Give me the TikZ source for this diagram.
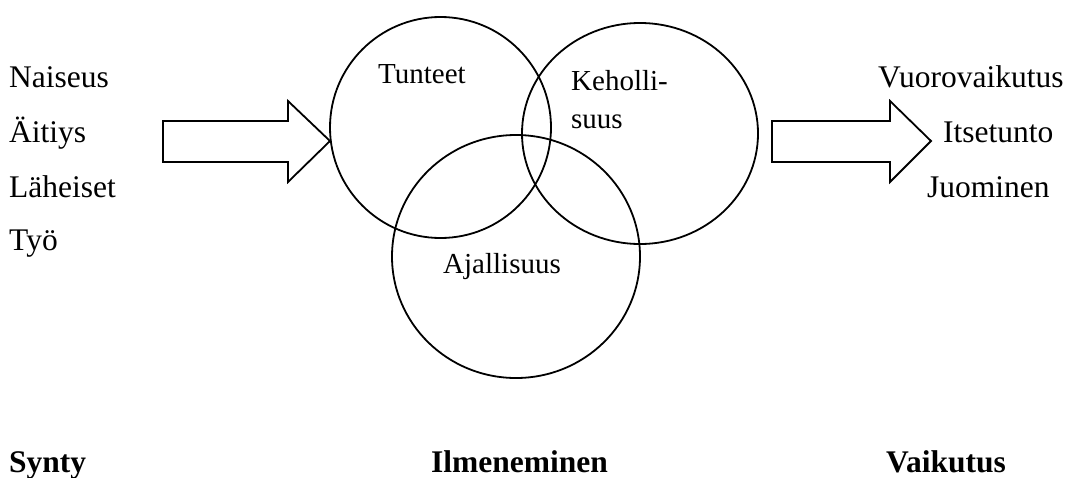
\documentclass[tikz,border=0pt]{standalone}
\usepackage{fontspec}
\setmainfont{Liberation Serif}
\begin{document}
\begin{tikzpicture}[x=1pt,y=-1pt,
  shapeline/.style={draw=black,line width=1.8pt,line join=miter},
  lbl/.style={inner sep=0pt,anchor=base west,font=\fontsize{31.5}{36}\selectfont},
  clbl/.style={inner sep=0pt,anchor=base west,font=\fontsize{29}{34}\selectfont},
  blbl/.style={inner sep=0pt,anchor=base west,font=\fontsize{31.5}{36}\selectfont\bfseries}]
\useasboundingbox (0,0) rectangle (1070,477);
% left labels
\node[lbl] (naiseus) at (9,87) {Naiseus};
\node[lbl] (aitiys) at (9,142) {Äitiys};
\node[lbl] (laheiset) at (9,197) {Läheiset};
\node[lbl] (tyo) at (9,250) {Työ};
% arrows
\draw[shapeline] (163,121) -- (288,121) -- (288,101) -- (330,141) -- (288,182) -- (288,162) -- (163,162) -- cycle;
\draw[shapeline] (772,121) -- (890,121) -- (890,101) -- (931,141) -- (890,182) -- (890,162) -- (772,162) -- cycle;
% circles
\draw[shapeline] (440.5,127.5) circle[radius=110.5];
\draw[shapeline] (640,133.5) ellipse[x radius=118,y radius=110.5];
\draw[shapeline] (516,256.5) ellipse[x radius=124,y radius=121.5];
% circle labels
\node[clbl] (tunteet) at (378,83) {Tunteet};
\node[clbl] (keho1) at (571,90) {Keholli-};
\node[clbl] (keho2) at (571,128) {suus};
\node[clbl] (ajal) at (443,273) {Ajallisuus};
% right labels
\node[lbl] (vuoro) at (878,87) {Vuorovaikutus};
\node[lbl] (itse) at (943,142) {Itsetunto};
\node[lbl] (juom) at (927,197) {Juominen};
% bottom labels
\node[blbl] (synty) at (9,472) {Synty};
\node[blbl] (ilme) at (431,472) {Ilmeneminen};
\node[blbl] (vaik) at (886,472) {Vaikutus};
\end{tikzpicture}
\end{document}
